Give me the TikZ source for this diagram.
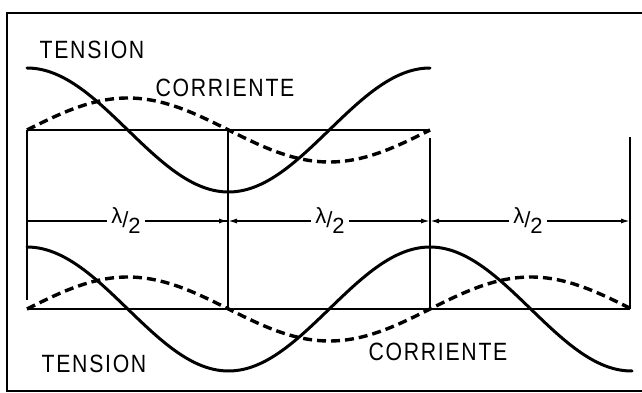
\documentclass[tikz,border=0pt]{standalone}
\usepackage{fontspec}
\newfontfamily\labfont[LetterSpace=8]{Liberation Sans}
\usetikzlibrary{arrows.meta,calc}
\newcommand{\lbltext}[1]{\scalebox{0.85}[1]{#1}}
\newcommand{\halfwave}{\raisebox{4pt}{λ}/\raisebox{-6pt}{2}}
\begin{document}
\begin{tikzpicture}[x=1pt,y=-1pt,
  framestyle/.style={line width=2pt,black},
  axisstyle/.style={line width=2.4pt,black},
  vline/.style={line width=1.5pt,black},
  voltcurve/.style={line width=3pt,black,line cap=round},
  ampcurve/.style={line width=3.4pt,black,dash pattern=on 9pt off 5pt},
  dimline/.style={line width=1.5pt,black},
  dimarrow/.style={-{Latex[length=9pt,width=5pt]}},
  lbl/.style={font=\labfont\fontsize{25}{25}\selectfont,inner sep=0pt},
  lam/.style={font=\labfont\fontsize{22}{22}\selectfont,fill=white,inner xsep=4pt,inner ysep=1pt}
]
\useasboundingbox (0,0) rectangle (642,393);
% frame
\draw[framestyle] (642,13) -- (7,13) -- (7,391) -- (642,391);
% key coordinates
\coordinate (tA) at (27,130);
\coordinate (tB) at (228,130);
\coordinate (tC) at (430,130);
\coordinate (bA) at (27,309);
\coordinate (bB) at (228,309);
\coordinate (bC) at (430,309);
\coordinate (bD) at (630,309);
\coordinate (dA) at (27,221);
\coordinate (dB) at (228,221);
\coordinate (dC) at (430,221);
\coordinate (dD) at (630,221);
\coordinate (vA) at (27,300);
\coordinate (vCt) at (430,138);
\coordinate (vDt) at (630,137);
% axes
\draw[axisstyle] (tA) -- (tC);
\draw[axisstyle] (bA) -- (bD);
% verticals
\draw[vline] (tA) -- (vA);
\draw[vline] (tB) -- (bB);
\draw[vline] (vCt) -- (bC);
\draw[vline] (vDt) -- (bD);
% dimension lines
\draw[dimline] (dA) -- (dB);
\draw[dimline,dimarrow] ($(dA)!0.5!(dB)$) -- (dB);
\draw[dimline,dimarrow] ($(dB)!0.5!(dC)$) -- (dB);
\draw[dimline,dimarrow] ($(dB)!0.5!(dC)$) -- (dC);
\draw[dimline,dimarrow] ($(dC)!0.5!(dD)$) -- (dC);
\draw[dimline,dimarrow] ($(dC)!0.5!(dD)$) -- (dD);
\node[lam] (l1) at (126,221) {\halfwave};
\node[lam] (l2) at (330,221) {\halfwave};
\node[lam] (l3) at (528,221) {\halfwave};
% top curves
\draw[voltcurve] plot[domain=27:430,samples=120] (\x,{130-62*cos(0.8933*(\x-27))});
\draw[ampcurve] plot[domain=27:430,samples=120] (\x,{130-32*sin(0.8933*(\x-27))});
% bottom curves
\draw[voltcurve] plot[domain=27:632,samples=160] (\x,{309-62*cos(0.8933*(\x-27))});
\draw[ampcurve] plot[domain=27:630,samples=160] (\x,{309-32*sin(0.8933*(\x-27))});
% labels
\node[lbl] (t1) at (92,50) {\lbltext{TENSION}};
\node[lbl] (c1) at (225,88) {\lbltext{CORRIENTE}};
\node[lbl] (t2) at (94,364) {\lbltext{TENSION}};
\node[lbl] (c2) at (438,352) {\lbltext{CORRIENTE}};
\end{tikzpicture}
\end{document}
